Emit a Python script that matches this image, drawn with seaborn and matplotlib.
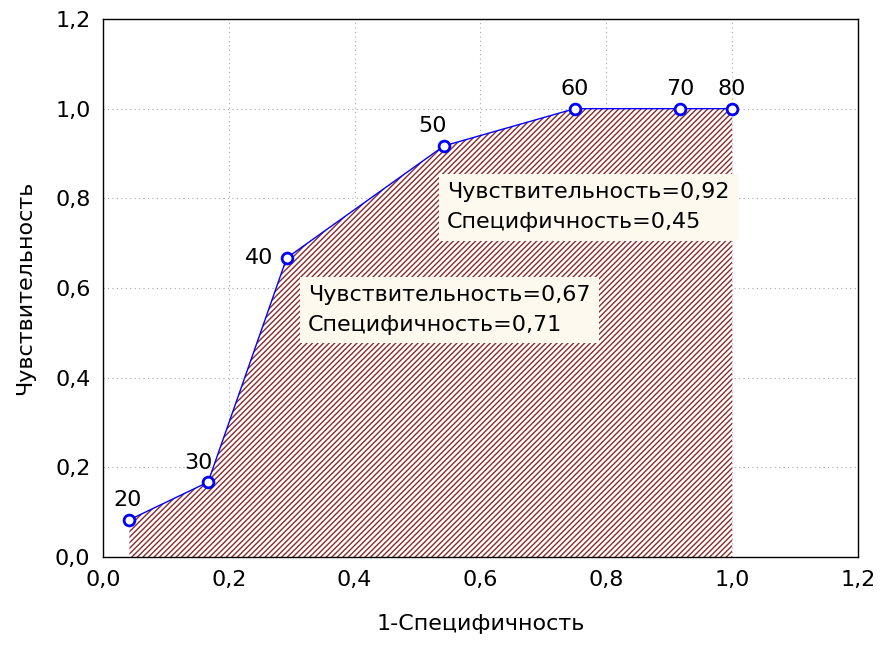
import matplotlib
matplotlib.use("Agg")
import matplotlib.pyplot as plt
import seaborn as sns
import pandas as pd
import numpy as np

fpr = [0.042, 0.167, 0.292, 0.542, 0.75, 0.917, 1.0]
tpr = [0.083, 0.167, 0.667, 0.917, 1.0, 1.0, 1.0]
cutoffs = ["20", "30", "40", "50", "60", "70", "80"]
ticks = [0.0, 0.2, 0.4, 0.6, 0.8, 1.0, 1.2]
tick_labels = ["0,0", "0,2", "0,4", "0,6", "0,8", "1,0", "1,2"]
box1 = "Чувствительность=0,92\nСпецифичность=0,45"
box2 = "Чувствительность=0,67\nСпецифичность=0,71"
xlabel = "1-Специфичность"
ylabel = "Чувствительность"

sns.set_style("white")
plt.rcParams['font.family'] = ['DejaVu Sans']
plt.rcParams['text.color'] = 'black'
plt.rcParams['xtick.color'] = 'black'
plt.rcParams['ytick.color'] = 'black'
plt.rcParams['axes.labelcolor'] = 'black'
plt.rcParams['hatch.linewidth'] = 1.0
plt.rcParams['hatch.color'] = '#8B2a2a'

FS = 16

df = pd.DataFrame({"fpr": fpr, "tpr": tpr, "cut": cutoffs})

fig = plt.figure(figsize=(8.81, 6.46), dpi=100)
ax = fig.add_axes([103/881, 1-557/646, (858-103)/881, (557-19)/646])

ax.fill_between(df["fpr"], 0, df["tpr"], facecolor='white', edgecolor='#8B2a2a',
                hatch='//////', linewidth=0, zorder=1)
sns.lineplot(data=df, x="fpr", y="tpr", ax=ax, color='blue', linewidth=1.0,
             sort=False, zorder=3)
sns.scatterplot(data=df, x="fpr", y="tpr", ax=ax, marker='o', s=60,
                facecolor='white', edgecolor='blue', linewidth=2, zorder=4)

offsets = {"20": (-1, 14), "30": (-7, 14), "40": (-10, 0), "50": (-8, 14),
           "60": (0, 14), "70": (0, 14), "80": (0, 14)}
for x, y, c in zip(fpr, tpr, cutoffs):
    dx, dy = offsets[c]
    ha = 'right' if c == "40" else 'center'
    ax.annotate(c, (x, y), xytext=(dx, dy), textcoords='offset points',
                ha=ha, va='center', fontsize=FS, zorder=5)

ax.text(0.547, 0.78, box1, fontsize=FS, linespacing=1.6, va='center', ha='left',
        bbox=dict(facecolor='#fdf9ef', edgecolor='none', pad=6), zorder=5)
ax.text(0.326, 0.551, box2, fontsize=FS, linespacing=1.6, va='center', ha='left',
        bbox=dict(facecolor='#fdf9ef', edgecolor='none', pad=6), zorder=5)

ax.set_xlim(0, 1.2)
ax.set_ylim(0, 1.2)
ax.set_xticks(ticks)
ax.set_xticklabels(tick_labels, fontsize=FS)
ax.set_yticks(ticks)
ax.set_yticklabels(tick_labels, fontsize=FS)
ax.set_xticks(np.arange(0.1, 1.2, 0.2), minor=True)
ax.set_yticks(np.arange(0.1, 1.2, 0.2), minor=True)
ax.tick_params(which='both', direction='in', length=5, width=1, color='black')
ax.tick_params(axis='both', which='major', pad=9)
ax.grid(True, which='major', linestyle=(0, (1, 3)), color='#aaaaaa', linewidth=0.8)
ax.set_axisbelow(True)
for s in ax.spines.values():
    s.set_color('black')
    s.set_linewidth(1)
ax.set_xlabel(xlabel, fontsize=FS, labelpad=18)
ax.set_ylabel(ylabel, fontsize=FS, labelpad=14)

fig.savefig("out.png", dpi=100)
